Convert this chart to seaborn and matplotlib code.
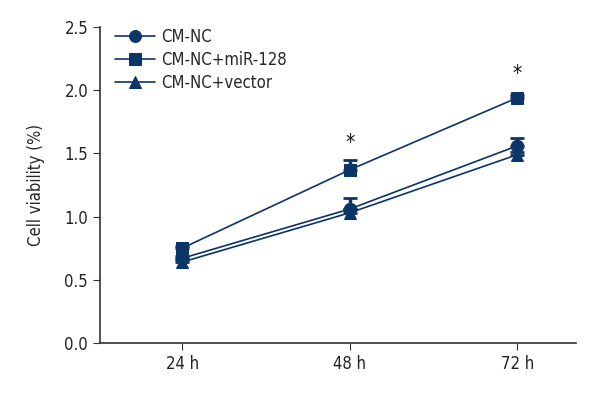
import pandas as pd
import numpy as np
import matplotlib
matplotlib.use("Agg")
import matplotlib.pyplot as plt
import seaborn as sns

times = ["24 h", "48 h", "72 h"]
groups = ["CM-NC", "CM-NC+miR-128", "CM-NC+vector"]
cm_nc = [0.67, 1.06, 1.56]
cm_nc_mir = [0.75, 1.37, 1.94]
cm_nc_vec = [0.64, 1.03, 1.49]
err_nc = [0.02, 0.09, 0.06]
err_mir = [0.02, 0.08, 0.02]
err_vec = [0.02, 0.03, 0.02]
star_times = ["48 h", "72 h"]
star_y = [1.58, 2.13]

sns.set_style("ticks")
plt.rcParams["font.family"] = ["DejaVu Sans"]
plt.rcParams["font.stretch"] = "condensed"

navy = "#0b3467"
df = pd.DataFrame({
    "time": times * 3,
    "pos": list(range(3)) * 3,
    "group": [g for g in groups for _ in times],
    "val": cm_nc + cm_nc_mir + cm_nc_vec,
    "err": err_nc + err_mir + err_vec,
})

fig = plt.figure(figsize=(6, 4), dpi=100)
ax = fig.add_axes([0.1667, 0.1425, 0.7933, 0.79])

# error bars shown above the mean only
for g in groups:
    sub = df[df["group"] == g]
    ax.errorbar(sub["pos"], sub["val"], yerr=[np.zeros(len(sub)), sub["err"]],
                fmt="none", ecolor=navy, elinewidth=2.5, capsize=5,
                capthick=2, zorder=1)

markers = {"CM-NC": "o", "CM-NC+miR-128": "s", "CM-NC+vector": "^"}
sns.lineplot(data=df, x="pos", y="val", hue="group", style="group",
             markers=markers, dashes=False, palette=[navy] * 3,
             markersize=9, linewidth=1.2, markeredgecolor=navy, ax=ax,
             zorder=3)

for t, y in zip(star_times, star_y):
    ax.text(times.index(t), y, "*", ha="center", va="center", fontsize=15,
            color="#111111")

ax.set_xlim(-0.49, 2.35)
ax.set_ylim(0, 2.5)
ax.set_xticks(range(3))
ax.set_xticklabels(times, fontsize=12)
ax.set_yticks(np.arange(0, 2.51, 0.5))
ax.set_yticklabels([f"{v:.1f}" for v in np.arange(0, 2.51, 0.5)], fontsize=12)
ax.set_xlabel("")
ax.set_ylabel("Cell viability (%)", fontsize=12, labelpad=14)
sns.despine(ax=ax)
for s in ["left", "bottom"]:
    ax.spines[s].set_color("#333333")
    ax.spines[s].set_linewidth(1.2)
ax.tick_params(length=5, color="#333333", labelcolor="#222222")

ax.legend(title=None, loc="upper left", bbox_to_anchor=(0.0, 1.045),
          frameon=False, fontsize=12, handlelength=2.4, labelspacing=0.3,
          handletextpad=0.35, markerscale=0.95)

fig.savefig("out.png", dpi=100)
